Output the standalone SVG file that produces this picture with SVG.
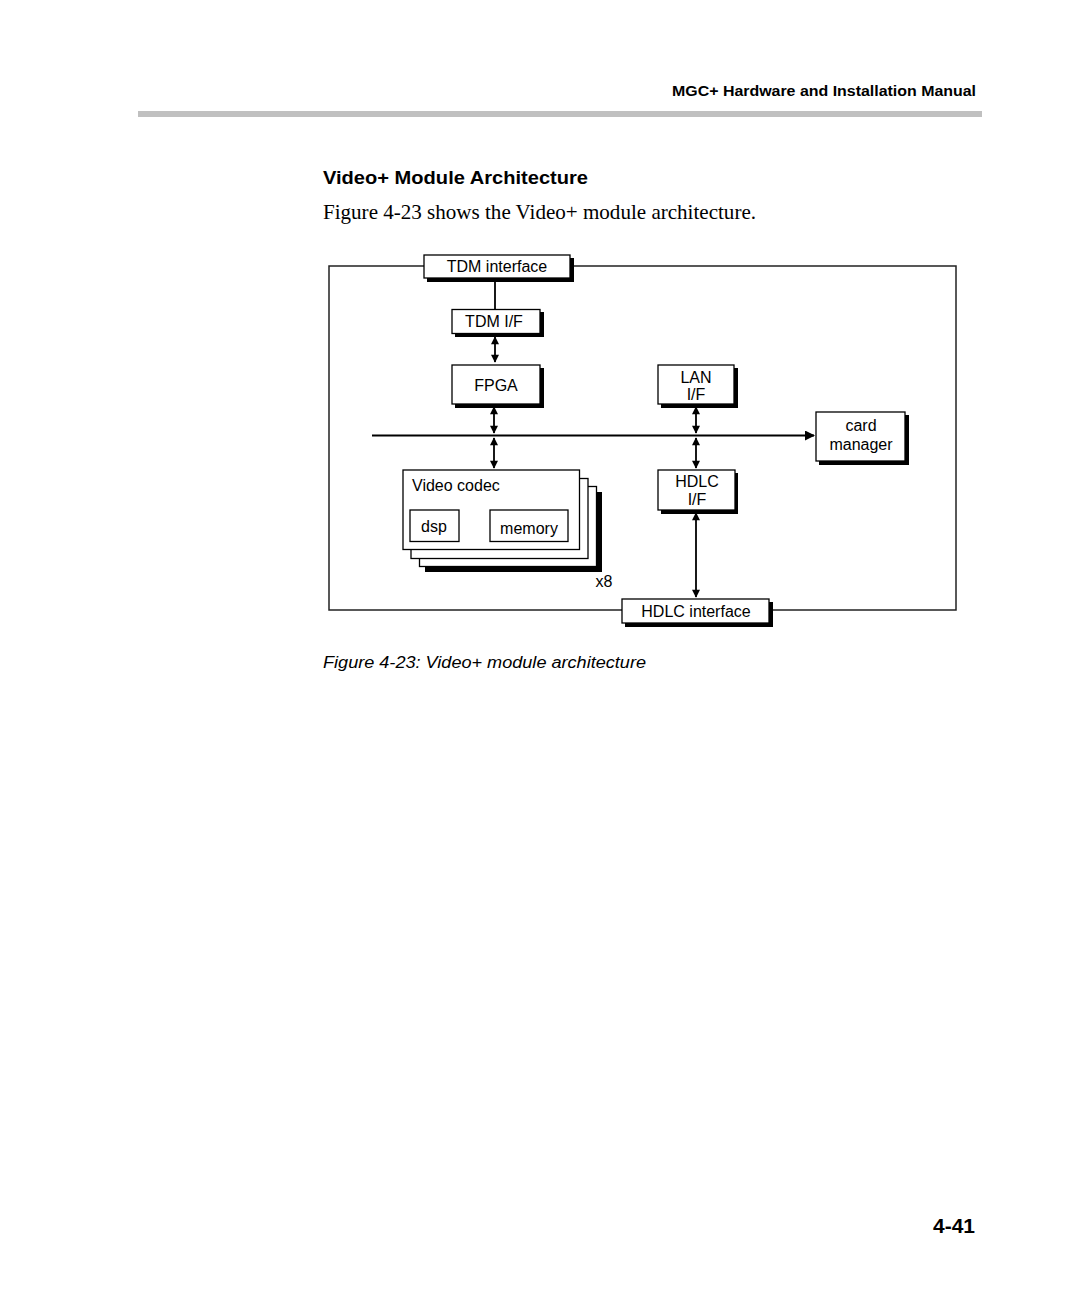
<svg xmlns="http://www.w3.org/2000/svg" width="1080" height="1306" viewBox="0 0 1080 1306">
<style>
.box{fill:#fff;stroke:#000;stroke-width:1.3}
.sh{fill:#000}
.t{font-family:"Liberation Sans",Arial,sans-serif;font-size:16px;fill:#000;text-anchor:middle}
.ln{stroke:#000;stroke-width:1.8;fill:none}
</style>
<defs>
<marker id="ah" viewBox="0 0 10 10" refX="9" refY="5" markerWidth="9" markerHeight="8" markerUnits="userSpaceOnUse" orient="auto-start-reverse">
<path d="M0,0 L10,5 L0,10 z" fill="#000"/>
</marker>
<marker id="ah2" viewBox="0 0 10 10" refX="9" refY="5" markerWidth="10" markerHeight="10" markerUnits="userSpaceOnUse" orient="auto-start-reverse">
<path d="M0,0 L10,5 L0,10 z" fill="#000"/>
</marker>
</defs>
<rect width="1080" height="1306" fill="#fff"/>
<text x="976" y="96" font-family="Liberation Sans,Arial,sans-serif" font-size="14" font-weight="bold" text-anchor="end" textLength="304" lengthAdjust="spacingAndGlyphs">MGC+ Hardware and Installation Manual</text>
<rect x="138" y="111" width="844" height="6" fill="#c0c0c0"/>
<text x="323" y="184" font-family="Liberation Sans,Arial,sans-serif" font-size="19" font-weight="bold" textLength="265" lengthAdjust="spacingAndGlyphs">Video+ Module Architecture</text>
<text x="323" y="219" font-family="Liberation Serif,Times New Roman,serif" font-size="21" textLength="433" lengthAdjust="spacingAndGlyphs">Figure 4-23 shows the Video+ module architecture.</text>

<g id="frame">
<rect x="329" y="266" width="627" height="344" fill="none" stroke="#222" stroke-width="1.5"/>
</g>

<g id="connectors">
<line class="ln" x1="495" y1="278" x2="495" y2="309"/>
<line class="ln" x1="495" y1="337" x2="495" y2="362" marker-start="url(#ah)" marker-end="url(#ah)"/>
<line class="ln" x1="372" y1="435.5" x2="814" y2="435.5" marker-end="url(#ah2)"/>
<line class="ln" x1="494" y1="407" x2="494" y2="433" marker-start="url(#ah)" marker-end="url(#ah)"/>
<line class="ln" x1="494" y1="438" x2="494" y2="468" marker-start="url(#ah)" marker-end="url(#ah)"/>
<line class="ln" x1="696" y1="407" x2="696" y2="433" marker-start="url(#ah)" marker-end="url(#ah)"/>
<line class="ln" x1="696" y1="438" x2="696" y2="468" marker-start="url(#ah)" marker-end="url(#ah)"/>
<line class="ln" x1="696" y1="513" x2="696" y2="597" marker-start="url(#ah)" marker-end="url(#ah)"/>
</g>

<g id="tdm-interface">
<rect class="sh" x="427" y="258" width="147" height="24"/>
<rect class="box" x="424" y="255" width="146" height="23"/>
<text class="t" x="497" y="272">TDM interface</text>
</g>
<g id="tdm-if">
<rect class="sh" x="455" y="312" width="89" height="25"/>
<rect class="box" x="452" y="309.5" width="88" height="24"/>
<text class="t" x="494" y="327">TDM I/F</text>
</g>
<g id="fpga">
<rect class="sh" x="455" y="368" width="89" height="40"/>
<rect class="box" x="452" y="365" width="88" height="39"/>
<text class="t" x="496" y="391">FPGA</text>
</g>
<g id="lan-if">
<rect class="sh" x="661" y="368" width="77" height="40"/>
<rect class="box" x="658" y="365" width="76" height="39"/>
<text class="t" x="696" y="383">LAN</text>
<text class="t" x="696" y="400">I/F</text>
</g>
<g id="card-manager">
<rect class="sh" x="819" y="415" width="90" height="50"/>
<rect class="box" x="816" y="412" width="89" height="49"/>
<text class="t" x="861" y="431">card</text>
<text class="t" x="861" y="450">manager</text>
</g>
<g id="hdlc-if">
<rect class="sh" x="661" y="473" width="77" height="41"/>
<rect class="box" x="658" y="470" width="77" height="40"/>
<text class="t" x="697" y="487">HDLC</text>
<text class="t" x="697" y="505">I/F</text>
</g>
<g id="hdlc-interface">
<rect class="sh" x="625" y="602" width="148" height="25"/>
<rect class="box" x="622" y="599" width="147" height="24"/>
<text class="t" x="696" y="617">HDLC interface</text>
</g>
<g id="video-codec">
<rect class="sh" x="425" y="492" width="177" height="80"/>
<rect class="box" x="419.5" y="486.5" width="177" height="80"/>
<rect class="box" x="411" y="478.5" width="177" height="80"/>
<rect class="box" x="403" y="470" width="176.5" height="79.5"/>
<text class="t" x="412" y="491" style="text-anchor:start">Video codec</text>
<rect class="box" x="410" y="510" width="49" height="31.5"/>
<text class="t" x="434" y="532">dsp</text>
<rect class="box" x="490" y="510" width="78" height="31.5"/>
<text class="t" x="529" y="534">memory</text>
<text class="t" x="604" y="587">x8</text>
</g>

<text x="323" y="668" font-family="Liberation Sans,Arial,sans-serif" font-size="16" font-style="italic" textLength="323" lengthAdjust="spacingAndGlyphs">Figure 4-23: Video+ module architecture</text>
<text x="975" y="1233" font-family="Liberation Sans,Arial,sans-serif" font-size="21" font-weight="bold" text-anchor="end">4-41</text>
</svg>
